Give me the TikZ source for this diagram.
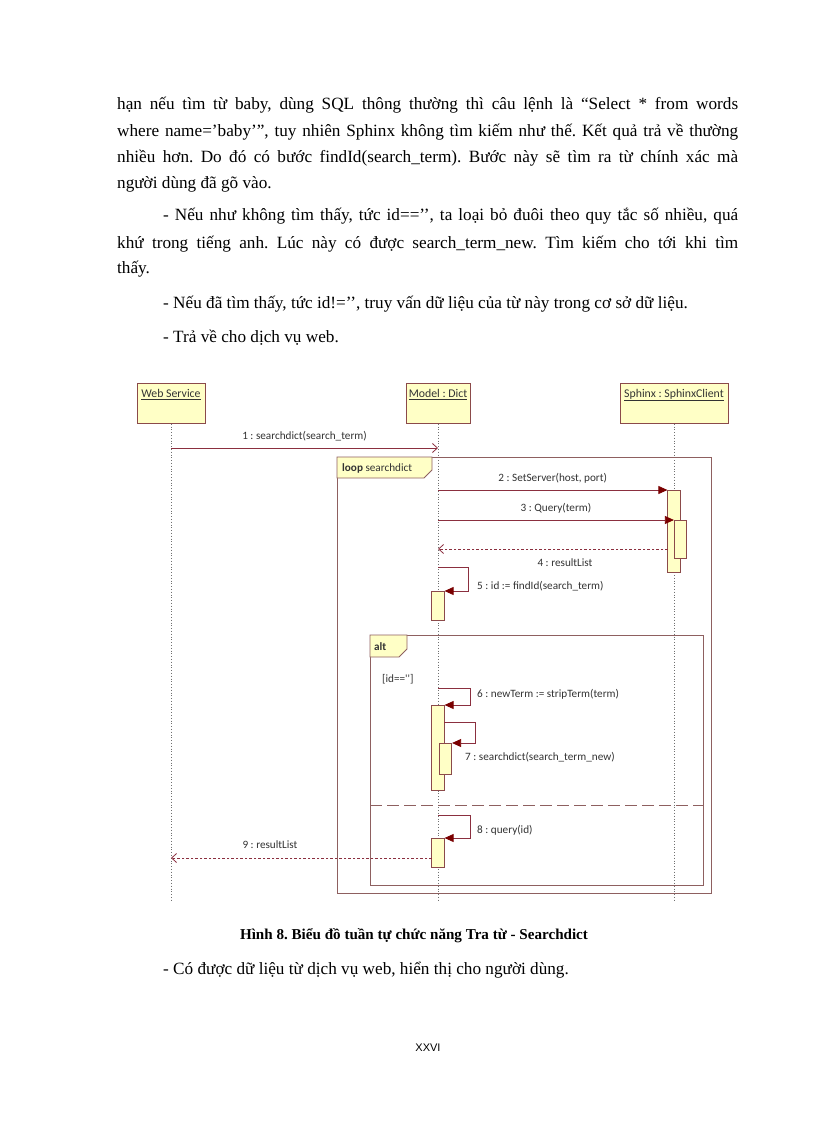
\documentclass[tikz,border=0pt]{standalone}
\usepackage{fontspec}
\setmainfont{Liberation Serif}
\newfontfamily\diafont{Carlito}
\newfontfamily\pagefont{Liberation Sans}
\usetikzlibrary{arrows.meta}
\definecolor{boxfill}{HTML}{FFFFC6}
\definecolor{boxdraw}{HTML}{8B4A4A}
\definecolor{msgcol}{HTML}{8B2F3F}
\definecolor{tipcol}{HTML}{7A0000}
\definecolor{framecol}{HTML}{8E6060}
\definecolor{llcol}{HTML}{707070}
\definecolor{diatext}{HTML}{333333}
\tikzset{
  para/.style={anchor=base west, inner sep=0pt, font=\fontsize{17.2}{20}\selectfont},
  head/.style={draw=boxdraw, fill=boxfill, line width=0.7pt, inner xsep=1pt, inner ysep=4pt, text height=10pt, text depth=22pt, anchor=north, text=diatext, font=\diafont\fontsize{11.8}{13}\selectfont},
  act/.style={draw=boxdraw, fill=boxfill, line width=0.7pt, minimum width=12.5pt, inner sep=0pt, anchor=north},
  lifeline/.style={draw=llcol, line width=0.8pt, dotted},
  sync/.style={draw=msgcol, line width=0.8pt, -{Triangle[length=9pt,width=8pt,fill=tipcol,color=tipcol]}},
  async/.style={draw=msgcol, line width=0.8pt, -{Straight Barb[length=5pt,width=9pt]}},
  ret/.style={draw=msgcol, line width=0.8pt, dashed, dash pattern=on 2.5pt off 2pt, -{Straight Barb[length=5pt,width=9pt]}},
  lab/.style={inner sep=0pt, text=diatext, font=\diafont\fontsize{11.2}{13}\selectfont},
  framebox/.style={draw=framecol, line width=0.8pt, inner sep=0pt, anchor=north west},
  framelab/.style={draw=framecol, fill=boxfill, line width=0.8pt},
  sep/.style={draw=framecol, line width=0.8pt, dash pattern=on 12pt off 5pt}
}
\frenchspacing
\begin{document}
\begin{tikzpicture}[x=1pt,y=-1pt]
\useasboundingbox[fill=white] (0,0) rectangle (816,1123);

% ---------- text above ----------
\node[para] (p1) at (117,110) {\makebox[621pt][s]{hạn nếu tìm từ baby, dùng SQL thông thường thì câu lệnh là “Select * from words}};
\node[para] (p2) at (117,136.5) {\makebox[621pt][s]{where name=’baby’”,  tuy nhiên Sphinx không tìm kiếm như thế. Kết quả trả về thường}};
\node[para] (p3) at (117,163) {\makebox[621pt][s]{nhiều hơn. Do đó có bước findId(search\_term). Bước này sẽ tìm ra từ chính xác mà}};
\node[para] (p4) at (117,189) {người dùng đã gõ vào.};
\node[para] (p5) at (163,221) {\makebox[575pt][s]{- Nếu như không tìm thấy, tức id==’’, ta loại bỏ đuôi theo quy tắc số nhiều, quá}};
\node[para] (p6) at (117,248) {\makebox[621pt][s]{khứ trong tiếng anh. Lúc này có được search\_term\_new. Tìm kiếm cho tới khi tìm}};
\node[para] (p7) at (117,273) {thấy.};
\node[para] (p8) at (163,308) {- Nếu đã tìm thấy, tức id!=’’, truy vấn dữ liệu của từ này trong cơ sở dữ liệu.};
\node[para] (p9) at (163,342) {- Trả về cho dịch vụ web.};

% ---------- lifeline heads ----------
\node[head, minimum width=68pt] (ws) at (171,383) {\underline{Web Service}};
\node[head, minimum width=64pt] (md) at (438,383) {\underline{Model : Dict}};
\node[head, minimum width=108pt] (sp) at (674,383) {\underline{Sphinx : SphinxClient}};

\coordinate (wsend) at (171,902);
\coordinate (mdend) at (438,902);
\coordinate (spend) at (674,902);
\draw[lifeline] (ws.south) -- (wsend);
\draw[lifeline] (md.south) -- (mdend);
\draw[lifeline] (sp.south) -- (spend);

% ---------- frames ----------
\node[framebox, minimum width=374pt, minimum height=436pt] (loop) at (337,457) {};
\draw[framelab] (loop.north west) -- ++(95,0) -- ++(0,13) -- ++(-8,8) -- ++(-87,0) -- cycle;
\node[lab, anchor=west] (looplab) at (342,468) {\textbf{loop} searchdict};

\node[framebox, minimum width=333pt, minimum height=250pt] (alt) at (370,635) {};
\draw[framelab] (alt.north west) -- ++(37,0) -- ++(0,14) -- ++(-8,8) -- ++(-29,0) -- cycle;
\node[lab, anchor=west] (altlab) at (374,647) {\textbf{alt}};
\node[lab, anchor=west] (guard) at (382,679) {[id=='']};
\coordinate (sepl) at (370,805);
\coordinate (sepr) at (703,805);
\draw[sep] (sepl) -- (sepr);

% ---------- activations ----------
\node[act, minimum height=82pt] (a2) at (674,490) {};
\node[act, minimum height=38pt, xshift=6.5pt] (a3) at (674,520) {};
\node[act, minimum height=29pt] (a5) at (438,591) {};
\node[act, minimum height=85pt] (a6) at (438,705) {};
\node[act, minimum height=31pt, xshift=7.5pt] (a7) at (438,743) {};
\node[act, minimum height=29pt] (a8) at (438,838) {};

% ---------- messages ----------
\coordinate (m1s) at (171,448);
\coordinate (m1e) at (438,448);
\draw[async] (m1s) -- (m1e) node[lab, midway, above=7pt] (l1) {1 : searchdict(search\_term)};

\coordinate (m2s) at (438,490);
\draw[sync] (m2s) -- (a2.north west) node[lab, midway, above=6pt] (l2) {2 : SetServer(host, port)};

\coordinate (m3s) at (438,520);
\draw[sync] (m3s) -- (a3.north west) node[lab, midway, above=6pt] (l3) {3 : Query(term)};

\coordinate (m4s) at (667.75,549);
\coordinate (m4e) at (438,549);
\draw[ret] (m4s) -- (m4e);
\node[lab] (l4) at (565,563) {4 : resultList};

\coordinate (m5s) at (438,567);
\draw[sync] (m5s) -- ++(30,0) |- (a5.north east);
\node[lab, anchor=west] (l5) at (477,586) {5 : id := findId(search\_term)};

\coordinate (m6s) at (438,688);
\draw[sync] (m6s) -- ++(32,0) |- (a6.north east);
\node[lab, anchor=west] (l6) at (477,694) {6 : newTerm := stripTerm(term)};

\coordinate (m7s) at (444.25,722);
\draw[sync] (m7s) -- ++(31,0) |- (a7.north east);
\node[lab, anchor=west] (l7) at (465,757) {7 : searchdict(search\_term\_new)};

\coordinate (m8s) at (438,815);
\draw[sync] (m8s) -- ++(32,0) |- (a8.north east);
\node[lab, anchor=west] (l8) at (477,830) {8 : query(id)};

\coordinate (m9s) at (431.75,858);
\coordinate (m9e) at (171,858);
\draw[ret] (m9s) -- (m9e);
\node[lab] (l9) at (270,845) {9 : resultList};

% ---------- text below ----------
\node[inner sep=0pt, font=\fontsize{15.1}{18}\selectfont\bfseries] (cap) at (414,936) {Hình 8. Biểu đồ tuần tự chức năng Tra từ - Searchdict};
\node[para] (p10) at (163,974) {- Có được dữ liệu từ dịch vụ web, hiển thị cho người dùng.};
\node[inner sep=0pt, font=\pagefont\fontsize{11}{12}\selectfont] (pg) at (428,1048) {XXVI};
\end{tikzpicture}
\end{document}
